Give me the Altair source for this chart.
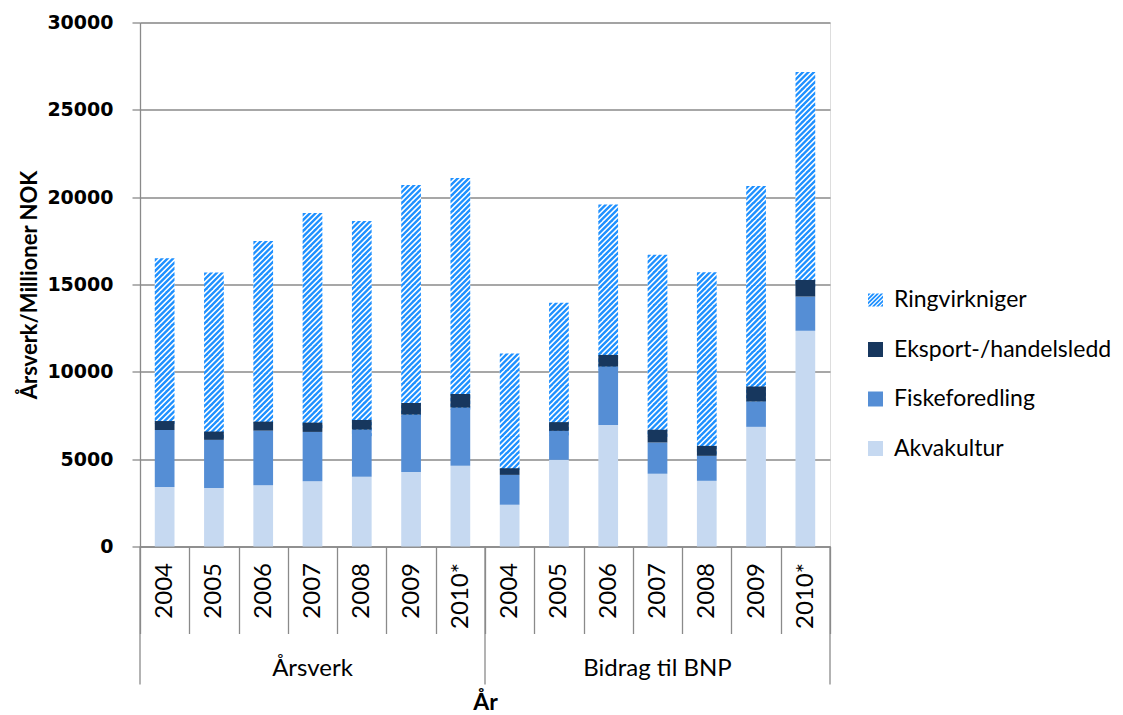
import math
import altair as alt
import pandas as pd

# ---------------- data ----------------
years = ["2004", "2005", "2006", "2007", "2008", "2009", "2010*"]
groups = ["Årsverk", "Bidrag til BNP"]
series_names = ["Ringvirkniger", "Eksport-/handelsledd", "Fiskeforedling", "Akvakultur"]

akvakultur = [3400, 3350, 3500, 3730, 3990, 4260, 4620,
              2390, 4960, 6960, 4160, 3760, 6850, 12350]
fiskeforedling = [3270, 2755, 3135, 2830, 2700, 3290, 3330,
                  1710, 1660, 3340, 1790, 1430, 1450, 1960]
eksport = [513, 476, 514, 533, 551, 665, 780,
           380, 500, 670, 730, 570, 860, 950]
ringvirkniger = [9300, 9090, 10320, 11980, 11370, 12460, 12350,
                 6540, 6810, 8590, 10000, 9920, 11450, 11880]

colors = ["#1E90FF", "#17375E", "#558ED5", "#C6D9F1"]

# ---------------- styles ----------------
W, H = 690, 524
YMAX = 30000
GRAY = "#8a8a8a"
n_cat = len(groups) * len(years)
band_px = W / n_cat
bar_px = 0.4 * band_px
period = 5.5
fill_frac = 0.6
tile_h = 3 * period
tile_step = tile_h * YMAX / H


def clip(poly, a, b, c):
    out = []
    for i in range(len(poly)):
        p = poly[i]
        q = poly[(i + 1) % len(poly)]
        fp = a * p[0] + b * p[1] - c
        fq = a * q[0] + b * q[1] - c
        if fp <= 0:
            out.append(p)
        if (fp <= 0) != (fq <= 0):
            t = fp / (fp - fq)
            out.append((p[0] + t * (q[0] - p[0]), p[1] + t * (q[1] - p[1])))
    return out


def hatch_path():
    ov = 0.4
    rect = [(0, -ov), (bar_px, -ov), (bar_px, tile_h + ov), (0, tile_h + ov)]
    r = bar_px / 2
    parts = []
    kmax = int(math.ceil((bar_px + tile_h) / period)) + 1
    for k in range(-1, kmax + 1):
        poly = clip(rect, -1, -1, -k * period)
        poly = clip(poly, 1, 1, k * period + period * fill_frac)
        if len(poly) < 3:
            continue
        pts = [((x - bar_px / 2) / r, (y - tile_h / 2) / r) for x, y in poly]
        parts.append("M" + "L".join(f"{u:.4f},{v:.4f}" for u, v in pts) + "Z")
    return "".join(parts)


HATCH = hatch_path()

# ---------------- table ----------------
rows = []
series_values = {
    "Akvakultur": akvakultur,
    "Fiskeforedling": fiskeforedling,
    "Eksport-/handelsledd": eksport,
    "Ringvirkniger": ringvirkniger,
}
order = {"Akvakultur": 0, "Fiskeforedling": 1, "Eksport-/handelsledd": 2, "Ringvirkniger": 3}
keys = []
for gi, g in enumerate(groups):
    for yi, yr in enumerate(years):
        keys.append(f"{g}|{yr}")
for s, vals in series_values.items():
    for i, k in enumerate(keys):
        rows.append({"key": k, "series": s, "value": vals[i], "ord": order[s]})
df = pd.DataFrame(rows)

group_df = pd.DataFrame({"key": [f"{g}|{years[len(years) // 2]}" for g in groups],
                         "label": groups})
start_df = pd.DataFrame({"key": [f"{g}|{years[0]}" for g in groups]})
end_df = pd.DataFrame({"key": [f"{groups[-1]}|{years[-1]}"]})

# ---------------- scales / axes ----------------
xscale = alt.Scale(type="band", domain=keys, paddingInner=0, paddingOuter=0)
yscale = alt.Scale(domain=[0, YMAX], nice=False)

xaxis = alt.Axis(
    labelExpr="split(datum.label, '|')[1]",
    labelAngle=270, labelFont="Lato", labelFontSize=24, labelColor="#000000",
    tickBand="extent", tickSize=87, tickColor=GRAY, tickWidth=1.3,
    domainColor=GRAY, domainWidth=1.3, labelPadding=-71, grid=False,
    title="År", titleFont="Lato", titleFontSize=23, titleFontWeight="bold",
    titleColor="#000000", titleY=163, titleBaseline="alphabetic",
)
yaxis = alt.Axis(
    values=list(range(0, YMAX + 1, 5000)), format="d",
    labelFont="DejaVu Sans", labelFontWeight="bold", labelFontSize=19,
    labelColor="#000000", tickSize=8, tickColor=GRAY, tickWidth=1.3,
    domainColor=GRAY, domainWidth=1.3, gridColor=GRAY, gridWidth=1.3,
    labelPadding=19, title="Årsverk/Millioner NOK", titleFont="Lato",
    titleFontSize=22, titleFontWeight="bold", titleColor="#000000", titlePadding=5,
)

legend = alt.Legend(
    orient="none", legendX=724, legendY=266, title=None, labelFont="Lato",
    labelFontSize=23, labelColor="#000000", symbolSize=225, rowPadding=25.5,
    labelOffset=7, padding=0, symbolStrokeWidth=0, labelLimit=400,
)
color_enc = alt.Color("series:N", scale=alt.Scale(domain=series_names, range=colors), legend=legend)
shape_enc = alt.Shape("series:N",
                      scale=alt.Scale(domain=series_names, range=[HATCH, "square", "square", "square"]),
                      legend=legend)

xenc = alt.X("key:N", scale=xscale, axis=xaxis)

base = alt.Chart(df).transform_stack(
    stack="value", groupby=["key"], as_=["y0", "y1"],
    sort=[alt.SortField("ord", order="ascending")],
)

ring_bg = base.transform_filter(alt.datum.series == "Ringvirkniger").mark_bar(
    width={"band": 0.4}, color="white"
).encode(x=xenc, y=alt.Y("y0:Q", scale=yscale, axis=yaxis), y2="y1:Q")

tiles = base.transform_filter(alt.datum.series == "Ringvirkniger").transform_calculate(
    idx=f"sequence(0, ceil(datum.value / {tile_step:.4f}))"
).transform_flatten(["idx"]).transform_calculate(
    yc=f"datum.y1 - (datum.idx + 0.5) * {tile_step:.4f}"
).mark_point(filled=True, size=bar_px ** 2, opacity=1, strokeWidth=0).encode(
    x=xenc, y=alt.Y("yc:Q", scale=yscale, axis=yaxis), color=color_enc, shape=shape_enc
)

solid = base.transform_filter(alt.datum.series != "Ringvirkniger").mark_bar(
    width={"band": 0.4}
).encode(x=xenc, y=alt.Y("y0:Q", scale=yscale, axis=yaxis), y2="y1:Q", color=color_enc)

group_labels = alt.Chart(group_df).mark_text(
    font="Lato", fontSize=24, baseline="middle", color="#000000"
).encode(x=xenc, y=alt.value(H + 122), text="label:N")

sep_start = alt.Chart(start_df).mark_rule(color=GRAY, strokeWidth=1.3).encode(
    x=alt.X("key:N", scale=xscale, axis=xaxis, bandPosition=0),
    y=alt.value(H), y2=alt.value(H + 138),
)
sep_end = alt.Chart(end_df).mark_rule(color=GRAY, strokeWidth=1.3).encode(
    x=alt.X("key:N", scale=xscale, axis=xaxis, bandPosition=1),
    y=alt.value(H), y2=alt.value(H + 138),
)

chart = alt.layer(ring_bg, tiles, solid, group_labels, sep_start, sep_end).properties(
    width=W, height=H,
    autosize=alt.AutoSizeParams(type="none"),
    padding={"left": 132, "top": 14.5, "right": 285, "bottom": 168},
).configure_view(stroke=None).configure(background="white")

chart.save("out.html", embed_options={"renderer": "svg", "actions": False})
